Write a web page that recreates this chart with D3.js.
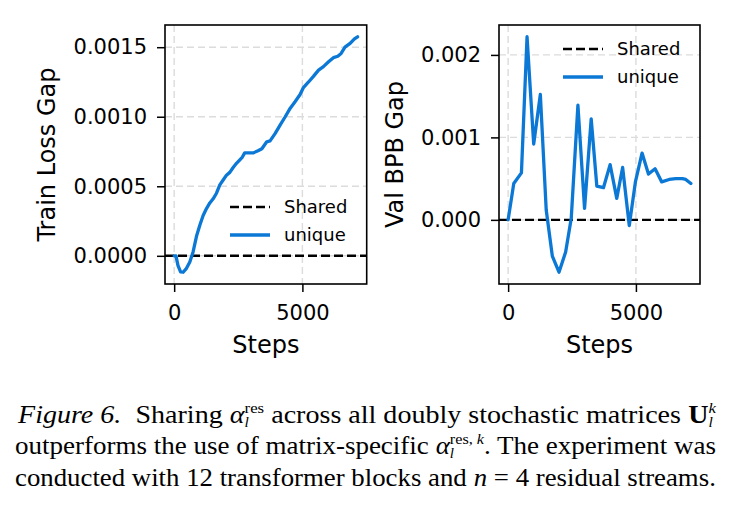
<!DOCTYPE html>
<html>
<head>
<meta charset="utf-8">
<script src="https://cdn.jsdelivr.net/npm/d3@7"></script>
<style>
  body { margin: 0; background: #fff; }
  svg { display: block; }
</style>
</head>
<body>
<script>
// data
var trainSteps = [0, 70, 150, 250, 350, 480, 610, 740, 870, 1000, 1130, 1260, 1390, 1520, 1650, 1780, 1910, 2040, 2170, 2300, 2430, 2560, 2660, 2750, 2880, 3080, 3270, 3420, 3610, 3740, 3940, 4130, 4330, 4520, 4720, 4910, 5040, 5240, 5430, 5630, 5820, 6020, 6210, 6380, 6510, 6660, 6860, 7030, 7150];
var trainGap = [0, 0, -0.00007, -0.000115, -0.000118, -0.00009, -0.000045, 0.00003, 0.00014, 0.00022, 0.00029, 0.00034, 0.00038, 0.00041, 0.00045, 0.00051, 0.000545, 0.00058, 0.0006, 0.000635, 0.000665, 0.00069, 0.00071, 0.00074, 0.00074, 0.00074, 0.000755, 0.00077, 0.00082, 0.000826, 0.00088, 0.00094, 0.001, 0.00106, 0.00111, 0.00116, 0.00121, 0.00125, 0.00129, 0.001335, 0.00136, 0.001395, 0.001425, 0.001435, 0.001455, 0.0015, 0.001527, 0.00156, 0.001575];

var valSteps = [0, 220, 520, 740, 1000, 1260, 1490, 1730, 1990, 2250, 2470, 2730, 2990, 3250, 3470, 3730, 3990, 4250, 4480, 4740, 4980, 5240, 5490, 5750, 6010, 6300, 6560, 6820, 6950, 7150];
var valGap = [0, 0.00044, 0.00057, 0.00222, 0.00092, 0.00152, 0.00012, -0.00044, -0.000635, -0.00039, 0.00002, 0.00139, 0.00014, 0.001225, 0.00041, 0.00039, 0.00067, 0.00026, 0.000635, -0.00007, 0.00046, 0.00081, 0.000555, 0.00062, 0.00046, 0.00049, 0.0005, 0.0005, 0.00049, 0.00044];

var xTicks = [0, 5000];
var trainYTicks = [0, 0.0005, 0.001, 0.0015];
var valYTicks = [0, 0.001, 0.002];
var seriesNames = ["Shared", "unique"];

var width = 735;
var height = 509;
var blue = "#0b78d6";
var font = "DejaVu Sans";

var svg = d3.select("body").append("svg")
  .attr("width", width)
  .attr("height", height);

// padded domain like matplotlib's default 5% margins
function padded(vals) {
  var ext = d3.extent(vals);
  var m = (ext[1] - ext[0]) * 0.05;
  return [ext[0] - m, ext[1] + m];
}

function panel(opts) {
  var left = opts.left, right = opts.right, top = 25, bottom = 284;

  var x = d3.scaleLinear().domain(padded(opts.steps)).range([left, right]);
  var y = d3.scaleLinear().domain(padded(opts.values)).range([bottom, top]);

  var g = svg.append("g");

  // grid
  g.selectAll(".gx").data(xTicks).enter().append("line")
    .attr("x1", d => x(d)).attr("x2", d => x(d))
    .attr("y1", top).attr("y2", bottom)
    .attr("stroke", "#dcdcdc").attr("stroke-width", 1.4)
    .attr("stroke-dasharray", "7,4");
  g.selectAll(".gy").data(opts.yTicks).enter().append("line")
    .attr("x1", left).attr("x2", right)
    .attr("y1", d => y(d)).attr("y2", d => y(d))
    .attr("stroke", "#dcdcdc").attr("stroke-width", 1.4)
    .attr("stroke-dasharray", "7,4");

  // zero reference ("Shared")
  g.append("line")
    .attr("x1", left).attr("x2", right)
    .attr("y1", y(0)).attr("y2", y(0))
    .attr("stroke", "#000").attr("stroke-width", 2.4)
    .attr("stroke-dasharray", "9,4");

  // series
  var line = d3.line().x(d => x(d[0])).y(d => y(d[1]));
  g.append("path")
    .datum(d3.zip(opts.steps, opts.values))
    .attr("d", line)
    .attr("fill", "none")
    .attr("stroke", blue)
    .attr("stroke-width", 3.3)
    .attr("stroke-linejoin", "round")
    .attr("stroke-linecap", "round");

  // axes
  var xAxis = d3.axisBottom(x).tickValues(xTicks).tickFormat(d3.format("d")).tickSize(8).tickPadding(6);
  var yAxis = d3.axisLeft(y).tickValues(opts.yTicks).tickFormat(d3.format(opts.fmt)).tickSize(8).tickPadding(10);

  var xa = g.append("g").attr("transform", "translate(0," + bottom + ")").call(xAxis);
  var ya = g.append("g").attr("transform", "translate(" + left + ",0)").call(yAxis);
  [xa, ya].forEach(function(a) {
    a.select(".domain").remove();
    a.selectAll(".tick line").attr("stroke", "#000").attr("stroke-width", 1.5);
    a.selectAll(".tick text").attr("fill", "#000").style("font-family", font).style("font-size", "21px");
  });
  xa.selectAll(".tick text").attr("dy", null).attr("y", 36);

  // frame
  g.append("rect")
    .attr("x", left).attr("y", top)
    .attr("width", right - left).attr("height", bottom - top)
    .attr("fill", "none").attr("stroke", "#000").attr("stroke-width", 1.6);

  // axis labels
  g.append("text")
    .attr("x", (left + right) / 2).attr("y", 353)
    .attr("text-anchor", "middle")
    .style("font-family", font).style("font-size", "24px")
    .text("Steps");
  g.append("text")
    .attr("transform", "translate(" + opts.ylabelX + "," + ((top + bottom) / 2) + ") rotate(-90)")
    .attr("text-anchor", "middle")
    .style("font-family", font).style("font-size", "24px")
    .text(opts.ylabel);

  // legend
  var lg = g.append("g").attr("transform", "translate(" + opts.legX + "," + opts.legY + ")");
  seriesNames.forEach(function(name, i) {
    var row = lg.append("g").attr("transform", "translate(0," + (i * 28) + ")");
    row.append("line")
      .attr("x1", 0).attr("x2", 40).attr("y1", 0).attr("y2", 0)
      .attr("stroke", i === 0 ? "#000" : blue)
      .attr("stroke-width", i === 0 ? 2.4 : 3.3)
      .attr("stroke-dasharray", i === 0 ? "9,4" : null);
    row.append("text")
      .attr("x", 54).attr("y", 0).attr("dy", "0.35em")
      .style("font-family", font).style("font-size", "18px")
      .text(name);
  });
}

panel({
  left: 165, right: 366.7,
  steps: trainSteps, values: trainGap, yTicks: trainYTicks, fmt: ".4f",
  ylabel: "Train Loss Gap", ylabelX: 55,
  legX: 230, legY: 207
});

panel({
  left: 499, right: 700,
  steps: valSteps, values: valGap, yTicks: valYTicks, fmt: ".3f",
  ylabel: "Val BPB Gap", ylabelX: 403,
  legX: 563, legY: 49
});

// caption, laid out piece by piece then stretched to the justified width
var serif = "Liberation Serif";
var nb = "\u00A0";

function captionLine(pieces, x0, baseline, x1) {
  var g = svg.append("g");
  var cx = 0;
  function put(t, o, size, shift) {
    var el = g.append("text")
      .attr("x", cx).attr("y", shift || 0)
      .style("font-family", serif)
      .style("font-size", size + "px")
      .style("font-style", o.italic ? "italic" : "normal")
      .style("font-weight", o.bold ? "bold" : "normal")
      .text(t);
    var w = el.node().getComputedTextLength();
    cx += w;
    return w;
  }
  pieces.forEach(function(p) {
    if (p.sup !== undefined) {
      // superscript parts and subscript share the same start
      var save = cx;
      p.sup.forEach(function(s) { put(s[0], {italic: s[1]}, 15, -10); });
      var w1 = cx - save;
      cx = save;
      put(p.sub, {italic: true}, 14, 4);
      var w2 = cx - save;
      cx = save + Math.max(w1, w2);
    } else {
      put(p.t, p, 25, 0);
    }
  });
  var s = (x1 - x0) / cx;
  g.attr("transform", "translate(" + x0 + "," + baseline + ") scale(" + s + ",1)");
}

captionLine([
  {t: "Figure 6." + nb + nb, italic: true},
  {t: "Sharing" + nb},
  {t: "\u03B1", italic: true},
  {sup: [["res", false]], sub: "l"},
  {t: nb + "across all doubly stochastic matrices" + nb},
  {t: "U", bold: true},
  {sup: [["k", true]], sub: "l"}
], 18, 423, 716);

captionLine([
  {t: "outperforms the use of matrix-specific" + nb},
  {t: "\u03B1", italic: true},
  {sup: [["res," + nb, false], ["k", true]], sub: "l"},
  {t: ". The experiment was"}
], 15, 454, 716);

captionLine([
  {t: "conducted with 12 transformer blocks and" + nb},
  {t: "n", italic: true},
  {t: nb + "=" + nb + "4 residual streams."}
], 15, 486, 716);
</script>
</body>
</html>
